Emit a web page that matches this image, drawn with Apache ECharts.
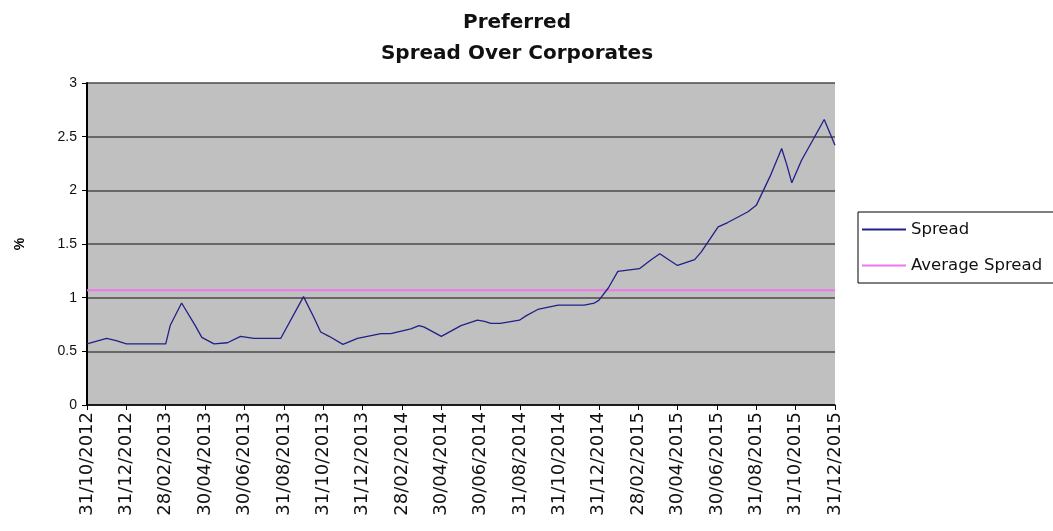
<!DOCTYPE html>
<html>
<head>
<meta charset="utf-8">
<script src="https://cdn.jsdelivr.net/npm/echarts@6/dist/echarts.min.js"></script>
<style>
html,body{margin:0;padding:0;background:#fff;}
#chart{width:1053px;height:531px;}
</style>
</head>
<body>
<div id="chart"></div>
<script>
const titleLines = ['Preferred', 'Spread Over Corporates'];
const tickLabels = ['31/10/2012','31/12/2012','28/02/2013','30/04/2013','30/06/2013','31/08/2013','31/10/2013','31/12/2013','28/02/2014','30/04/2014','30/06/2014','31/08/2014','31/10/2014','31/12/2014','28/02/2015','30/04/2015','30/06/2015','31/08/2015','31/10/2015','31/12/2015'];
const spreadDates = ['2012-10-31','2012-11-30','2012-12-15','2012-12-31','2013-02-28','2013-03-07','2013-03-25','2013-04-15','2013-04-25','2013-05-14','2013-06-04','2013-06-24','2013-07-15','2013-08-26','2013-09-30','2013-10-16','2013-10-27','2013-11-09','2013-11-30','2013-12-23','2014-01-29','2014-02-12','2014-03-14','2014-03-27','2014-04-04','2014-04-30','2014-05-31','2014-06-25','2014-07-06','2014-07-16','2014-07-31','2014-08-30','2014-09-09','2014-09-27','2014-10-29','2014-12-08','2014-12-24','2014-12-31','2015-01-15','2015-01-30','2015-03-02','2015-03-21','2015-04-03','2015-04-16','2015-04-30','2015-05-27','2015-06-06','2015-07-02','2015-07-17','2015-08-18','2015-08-31','2015-09-21','2015-10-09','2015-10-17','2015-10-25','2015-11-09','2015-11-25','2015-12-14','2015-12-31'];
const spreadValues = [0.57,0.62,0.60,0.57,0.57,0.74,0.95,0.74,0.63,0.57,0.58,0.64,0.62,0.62,1.01,0.82,0.68,0.64,0.565,0.62,0.665,0.665,0.71,0.74,0.725,0.64,0.74,0.79,0.78,0.76,0.76,0.79,0.83,0.89,0.93,0.93,0.95,0.975,1.09,1.245,1.27,1.355,1.41,1.355,1.30,1.355,1.425,1.66,1.70,1.80,1.86,2.13,2.39,2.24,2.07,2.28,2.455,2.66,2.42];
const averageSpread = 1.07;
const seriesNames = ['Spread', 'Average Spread'];

function daysIn(y, m) { return new Date(y, m, 0).getDate(); }
// months elapsed since 31/10/2012 (month-ends are whole numbers)
function monthIndex(s) {
  const [y, m, d] = s.split('-').map(Number);
  return (y - 2012) * 12 + (m - 10) - 1 + d / daysIn(y, m);
}
const spreadData = spreadDates.map((d, i) => [monthIndex(d), spreadValues[i]]);
const firstX = monthIndex(spreadDates[0]);
const lastX = monthIndex(spreadDates[spreadDates.length - 1]);
const avgData = [[firstX, averageSpread], [lastX, averageSpread]];

const chart = echarts.init(document.getElementById('chart'));
const font = 'Liberation Sans, Arial, sans-serif';
const wide = 'DejaVu Sans, sans-serif';
chart.setOption({
  animation: false,
  backgroundColor: '#ffffff',
  textStyle: { fontFamily: font },
  title: {
    text: titleLines.join('\n'),
    left: 517, top: 7, padding: 0, textAlign: 'center',
    textStyle: { fontFamily: wide, fontSize: 20, fontWeight: 'bold', color: '#111', lineHeight: 31 }
  },
  legend: {
    orient: 'vertical', left: 858, top: 212,
    borderColor: '#000', borderWidth: 1, padding: [9, 60, 9, 4],
    itemWidth: 44, itemHeight: 2, itemGap: 19,
    textStyle: { fontFamily: wide, fontSize: 16.5, color: '#111' },
    data: [{ name: seriesNames[0], icon: 'rect' }, { name: seriesNames[1], icon: 'rect' }]
  },
  grid: { left: 87, right: 218, top: 83, bottom: 126, show: true, backgroundColor: '#c0c0c0', borderWidth: 0 },
  xAxis: {
    type: 'value', min: 0, max: 38, interval: 2,
    axisLine: { show: true, lineStyle: { color: '#000', width: 1.5 } },
    axisTick: { show: true, length: 5, lineStyle: { color: '#000' } },
    splitLine: { show: false },
    axisLabel: {
      rotate: 90, fontSize: 18, color: '#111', fontFamily: wide, margin: 7,
      formatter: v => tickLabels[Math.round(v / 2)] || ''
    }
  },
  yAxis: {
    type: 'value', min: 0, max: 3, interval: 0.5,
    name: '%', nameLocation: 'middle', nameRotate: 90, nameGap: 60,
    nameTextStyle: { fontFamily: font, fontSize: 14, color: '#000', fontWeight: 'bold' },
    axisLine: { show: true, lineStyle: { color: '#000', width: 2 } },
    axisTick: { show: true, length: 5, lineStyle: { color: '#000' } },
    splitLine: { show: true, lineStyle: { color: '#4a4a4a', width: 1.5 } },
    axisLabel: { fontSize: 14, color: '#111', fontFamily: font, margin: 10 }
  },
  series: [
    {
      name: seriesNames[0], type: 'line', data: spreadData, showSymbol: false, symbol: 'none',
      lineStyle: { color: '#202088', width: 1.3 }, itemStyle: { color: '#202088' }, z: 3
    },
    {
      name: seriesNames[1], type: 'line', data: avgData, showSymbol: false, symbol: 'none',
      lineStyle: { color: '#ee77ee', width: 2 }, itemStyle: { color: '#ee77ee' }, z: 2
    }
  ]
});
</script>
</body>
</html>
